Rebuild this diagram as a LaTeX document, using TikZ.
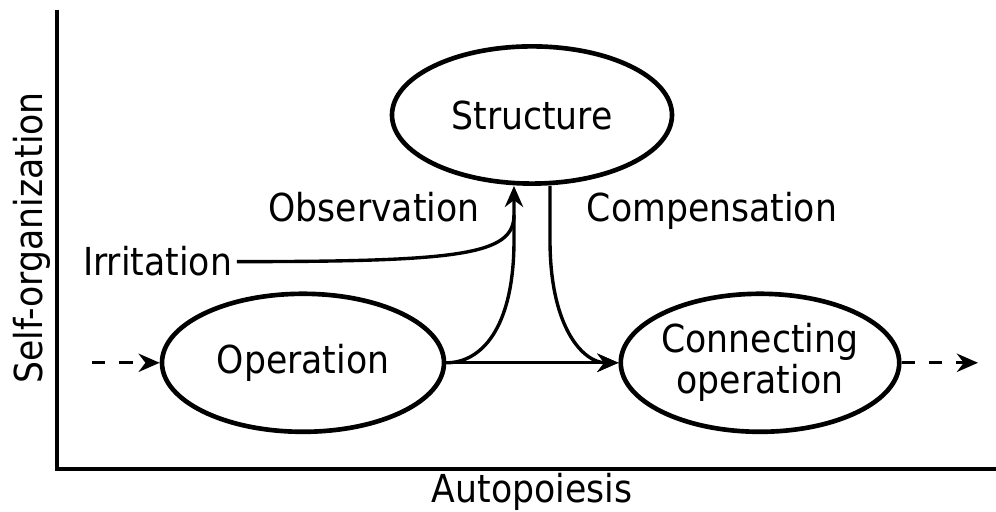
\documentclass[tikz,border=0pt]{standalone}
\usepackage{fontspec}
\setmainfont{DejaVu Sans Condensed}
\usepackage{tikz}
\usetikzlibrary{arrows.meta,calc,positioning,shapes}

\begin{document}
\begin{tikzpicture}[phase/.style={draw,ellipse,line width=3.3pt,inner sep=0pt},
  wire/.style={line width=2.4pt},
  flow/.style={wire,-{Stealth[length=15pt,width=13pt]}},
  loose/.style={flow,dash pattern=on 9.5pt off 10pt},
  font=\fontsize{27.4}{29.2}\selectfont]
\useasboundingbox (0,0) rectangle (24.9,12.8);
% axes
\draw[wire] (1.425,12.55) -- (1.425,1.075) -- (24.9,1.075);
\node[rotate=90,anchor=base] (Self) at (1.05,6.85) {Self-organization};
\node[anchor=base] (Auto) at (13.3,0.225) {Autopoiesis};
% states
\node[phase,minimum width=7cm,minimum height=3.43cm] (Str) at (13.3,9.925) {Structure};
\node[phase,minimum width=7.05cm,minimum height=3.45cm] (Op) at (7.575,3.73) {Operation};
\node[phase,minimum width=6.9cm,minimum height=3.45cm,align=center] (Con) at (19,3.73) {Connecting\\operation};
\node[anchor=base] (Irr) at (3.94,5.9) {Irritation};
\node[anchor=base] (Obs) at (9.35,7.25) {Observation};
\node[anchor=base] (Comp) at (17.8,7.25) {Compensation};
\coordinate (up) at ($(Str.south)+(-0.45,0)$);
\coordinate (down) at ($(Str.south)+(0.45,0)$);
\coordinate (in) at (2.3,3.73);
\coordinate (out) at (24.45,3.73);
% flows
\draw[loose] (in) -- (Op.west);
\draw[flow] (Op.east) -- (Con.west);
\draw[loose] (Con.east) -- (out);
\draw[flow] (Op.east) .. controls ($(Op.east)+(0.85,0)$) and ($(up)+(0,-3.6)$) .. ($(up)+(0,-1.35)$) -- (up);
\draw[flow] (down) -- ($(down)+(0,-1.35)$) .. controls ($(down)+(0,-3.6)$) and ($(Con.west)+(-0.85,0)$) .. (Con.west);
\draw[wire] (Irr.east) .. controls ($(Irr.east)+(5.6,0)$) and ($(up)+(0,-1.725)$) .. ($(up)+(0,-0.725)$);
\end{tikzpicture}
\end{document}
